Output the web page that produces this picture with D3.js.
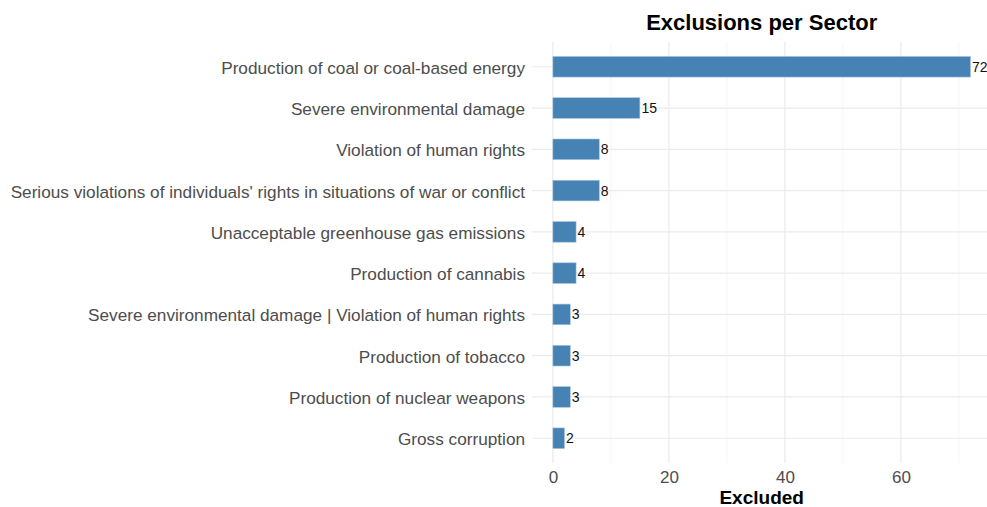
<!DOCTYPE html>
<html>
<head>
<meta charset="utf-8">
<script src="https://cdn.jsdelivr.net/npm/d3@7"></script>
<style>
  html, body { margin: 0; padding: 0; background: #fff; }
  svg { display: block; font-family: "Liberation Sans", Arial, sans-serif; }
</style>
</head>
<body>
<svg id="chart" width="987" height="507"></svg>
<script>
// Exclusion counts by sector, largest first
const sectors = [
  "Production of coal or coal-based energy",
  "Severe environmental damage",
  "Violation of human rights",
  "Serious violations of individuals' rights in situations of war or conflict",
  "Unacceptable greenhouse gas emissions",
  "Production of cannabis",
  "Severe environmental damage | Violation of human rights",
  "Production of tobacco",
  "Production of nuclear weapons",
  "Gross corruption"
];
const excluded = [72, 15, 8, 8, 4, 4, 3, 3, 3, 2];
const xTicks = [0, 20, 40, 60];
const xMinorTicks = [10, 30, 50, 70];

const data = sectors.map((s, i) => ({ sector: s, value: excluded[i] }));

const svg = d3.select("#chart");
const panel = { left: 532, top: 42, bottom: 463 };

// continuous axis with 5% padding on both sides
const maxV = d3.max(excluded);
const pad = maxV * 0.05;
const pxPerUnit = 5.8;
const x = d3.scaleLinear()
  .domain([-pad, maxV + pad])
  .range([panel.left, panel.left + (maxV + 2 * pad) * pxPerUnit]);

// discrete axis with 0.6 band padding at each end
const y = d3.scalePoint()
  .domain(sectors)
  .range([panel.top, panel.bottom])
  .padding(0.6);
const barH = y.step() * 0.5;

const panelRight = x.range()[1];

const grid = svg.append("g");
// minor vertical gridlines
grid.selectAll("line.minor").data(xMinorTicks).join("line")
  .attr("x1", d => x(d)).attr("x2", d => x(d))
  .attr("y1", panel.top).attr("y2", panel.bottom)
  .attr("stroke", "#f0f0f0").attr("stroke-width", 0.8);
// major vertical gridlines
grid.selectAll("line.major").data(xTicks).join("line")
  .attr("x1", d => x(d)).attr("x2", d => x(d))
  .attr("y1", panel.top).attr("y2", panel.bottom)
  .attr("stroke", "#ebebeb").attr("stroke-width", 1.2);
// horizontal gridlines at each sector
grid.selectAll("line.hy").data(sectors).join("line")
  .attr("x1", panel.left).attr("x2", panelRight)
  .attr("y1", d => y(d)).attr("y2", d => y(d))
  .attr("stroke", "#ebebeb").attr("stroke-width", 1.2);

// bars
svg.append("g").selectAll("rect").data(data).join("rect")
  .attr("x", x(0))
  .attr("y", d => y(d.sector) - barH / 2)
  .attr("width", d => x(d.value) - x(0))
  .attr("height", barH)
  .attr("fill", "#4682B4")
  .attr("stroke", "#a9c4dc")
  .attr("stroke-width", 0.6);

// value labels at bar ends
svg.append("g").selectAll("text").data(data).join("text")
  .attr("x", d => x(d.value) + 1.5)
  .attr("y", d => y(d.sector))
  .attr("dy", "0.36em")
  .attr("font-size", 14)
  .attr("fill", "#111")
  .text(d => d.value);

// y axis labels
const yAxis = d3.axisLeft(y).tickSize(0).tickPadding(7);
svg.append("g")
  .attr("transform", `translate(${panel.left},0)`)
  .call(yAxis)
  .call(g => g.select(".domain").remove())
  .call(g => g.selectAll("text")
    .attr("font-size", 17.2)
    .attr("dy", "0.38em")
    .attr("font-family", "Liberation Sans, Arial, sans-serif")
    .attr("fill", "#4d4d4d"));

// x axis labels
const xAxis = d3.axisBottom(x).tickValues(xTicks).tickSize(0).tickPadding(8);
svg.append("g")
  .attr("transform", `translate(0,${panel.bottom})`)
  .call(xAxis)
  .call(g => g.select(".domain").remove())
  .call(g => g.selectAll("text")
    .attr("font-size", 17)
    .attr("font-family", "Liberation Sans, Arial, sans-serif")
    .attr("fill", "#4d4d4d"));

const cx = (panel.left + panelRight) / 2;

// axis title
svg.append("text")
  .attr("x", cx).attr("y", 504)
  .attr("text-anchor", "middle")
  .attr("font-size", 19)
  .attr("font-weight", "bold")
  .attr("fill", "#000")
  .text("Excluded");

// chart title
svg.append("text")
  .attr("x", cx).attr("y", 30)
  .attr("text-anchor", "middle")
  .attr("font-size", 22)
  .attr("font-weight", "bold")
  .attr("fill", "#000")
  .text("Exclusions per Sector");
</script>
</body>
</html>
